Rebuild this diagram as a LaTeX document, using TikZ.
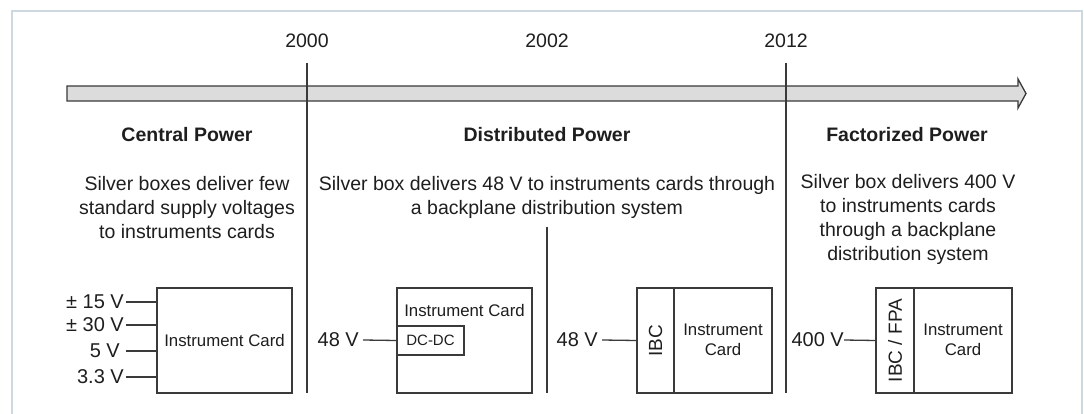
\documentclass[tikz,border=0pt]{standalone}
\usepackage{fontspec}
\setmainfont{Liberation Sans}
\definecolor{ln}{HTML}{3A3A3A}
\definecolor{txt}{HTML}{1E1E1E}
\definecolor{frame}{HTML}{CDD8DF}
\definecolor{arrfill}{HTML}{DCDCDC}
\begin{document}
\begin{tikzpicture}[x=1pt,y=-1pt,
  every node/.style={text=txt,inner sep=0pt},
  year/.style={font=\fontsize{19.5}{24}\selectfont,anchor=base},
  heading/.style={font=\bfseries\fontsize{19.5}{24}\selectfont,anchor=base},
  body/.style={font=\fontsize{19.5}{24}\selectfont,align=center,anchor=north},
  card/.style={draw=ln,line width=1.3pt,rectangle},
  cardtext/.style={font=\fontsize{16.8}{20}\selectfont,align=center},
  volt/.style={font=\fontsize{20}{24}\selectfont,anchor=east},
  wire/.style={draw=ln,line width=1.3pt},
  divider/.style={draw=ln,line width=2pt}
]
\useasboundingbox (0,0) rectangle (1084,414);
\fill[white] (0,0) rectangle (1084,414);
% frame
\draw[frame,line width=1.3pt] (12,414) -- (12,11) -- (1082,11) -- (1082,414);
% timeline arrow
\draw[ln,line width=1.3pt,fill=arrfill,line join=miter]
  (67,86) -- (1018,86) -- (1018,79) -- (1026,93.5) -- (1018,108) -- (1018,101) -- (67,101) -- cycle;
% years
\node[year] (y2000) at (307,48) {2000};
\node[year] (y2002) at (547,48) {2002};
\node[year] (y2012) at (786,48) {2012};
\coordinate (d1top) at (307,63);
\coordinate (d1bot) at (307,393);
\coordinate (d2top) at (786,63);
\coordinate (d2bot) at (786,393);
\coordinate (d3top) at (547,227);
\coordinate (d3bot) at (547,393);
\draw[divider] (d1top) -- (d1bot);
\draw[divider] (d2top) -- (d2bot);
\draw[divider] (d3top) -- (d3bot);
% headings
\node[heading] (h1) at (187,142) {Central Power};
\node[heading] (h2) at (547,142) {Distributed Power};
\node[heading] (h3) at (907,142) {Factorized Power};
% descriptions
\node[body] (t1) at (187,176) {Silver boxes deliver few\\standard supply voltages\\to instruments cards};
\node[body] (t2) at (547,176) {Silver box delivers 48 V to instruments cards through\\a backplane distribution system};
\node[body] (t3) at (908,174) {Silver box delivers 400 V\\to instruments cards\\through a backplane\\distribution system};
% box 1
\node[card,minimum width=135pt,minimum height=105pt] (b1) at (224.5,340.5) {};
\node[cardtext] (b1t) at (224.5,340.5) {Instrument Card};
\node[volt,inner xsep=2pt] (v15) at (126,302) {± 15 V};
\node[volt,inner xsep=2pt] (v30) at (126,325) {± 30 V};
\node[volt,inner xsep=6pt] (v5) at (126,351) {5 V};
\node[volt,inner xsep=2pt] (v33) at (126,377) {3.3 V};
\foreach \v in {v15,v30,v5,v33}{\draw[wire] (\v.east) -- (\v.east -| b1.west);}
% box 2
\node[card,minimum width=135pt,minimum height=105pt] (b2) at (464.5,340.5) {};
\node[cardtext,anchor=base] (b2t) at (464.5,316) {Instrument Card};
\node[card,minimum width=67pt,minimum height=29pt,font=\fontsize{15}{18}\selectfont] (dc) at (430.5,340.5) {DC-DC};
\node[volt,inner xsep=4pt] (v48a) at (363,340) {48 V};
\draw[wire] (v48a.east) -- (dc.west);
% box 3
\node[card,minimum width=135pt,minimum height=105pt] (b3) at (704.5,340.5) {};
\node[card,minimum width=37pt,minimum height=105pt] (ibc) at (655.5,340.5) {};
\node[font=\fontsize{19}{22}\selectfont,rotate=90] (ibct) at (655.5,340.5) {IBC};
\node[cardtext] (b3t) at (723,340) {Instrument\\Card};
\node[volt,inner xsep=4pt] (v48b) at (602,340) {48 V};
\draw[wire] (v48b.east) -- (ibc.west);
% box 4
\node[card,minimum width=136pt,minimum height=105pt] (b4) at (944,340.5) {};
\node[card,minimum width=38pt,minimum height=105pt] (fpa) at (895,340.5) {};
\node[font=\fontsize{19}{22}\selectfont,rotate=90] (fpat) at (895,340.5) {IBC / FPA};
\node[cardtext] (b4t) at (963,340) {Instrument\\Card};
\node[volt,inner xsep=0pt] (v400) at (844,340) {400 V};
\draw[wire] (v400.east) -- (fpa.west);
\end{tikzpicture}
\end{document}
